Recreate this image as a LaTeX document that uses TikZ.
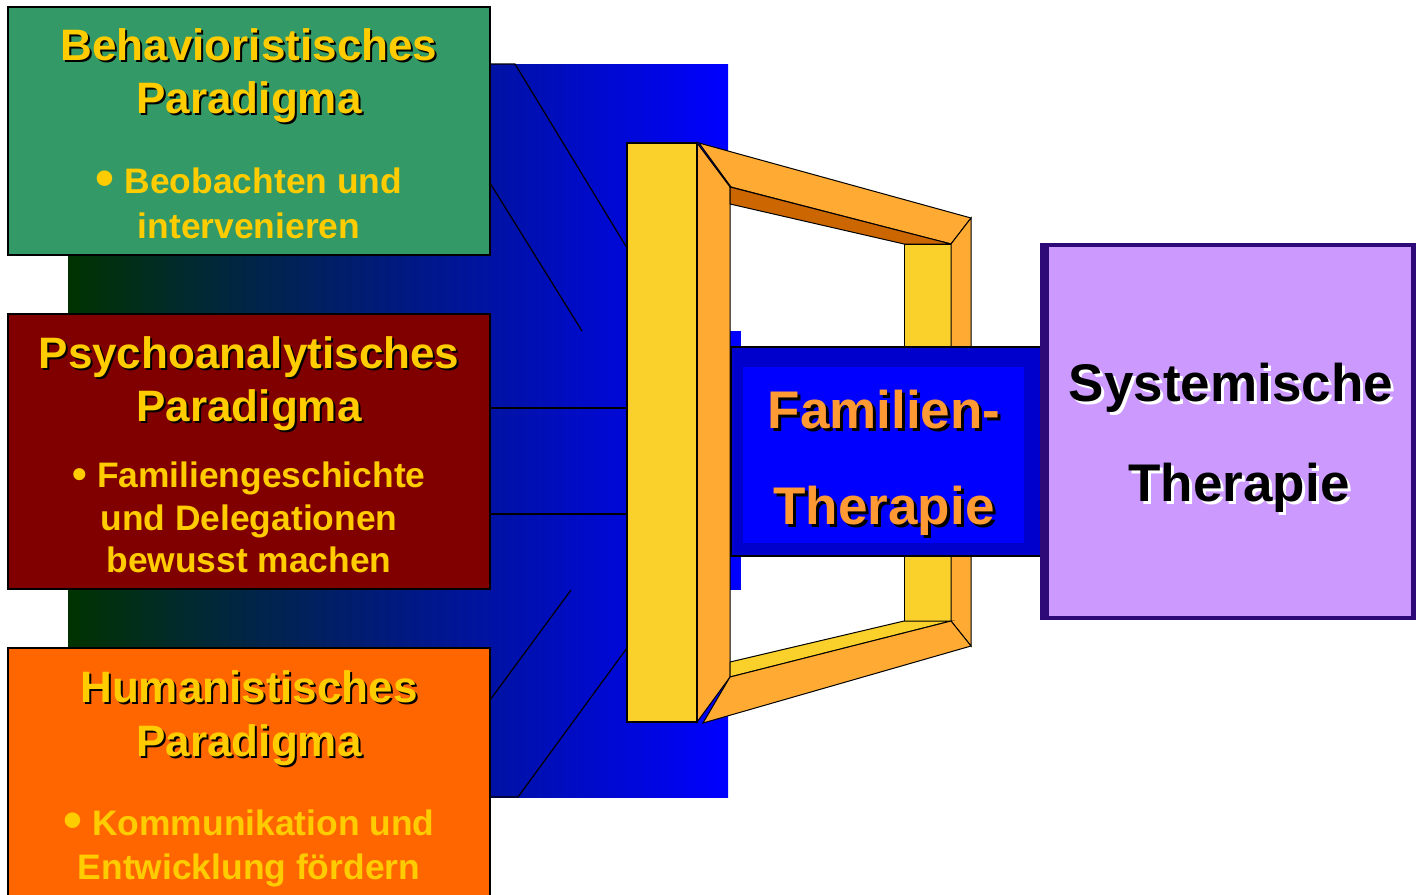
\documentclass[tikz,border=0pt]{standalone}
\usepackage{fontspec}
\setmainfont{Liberation Sans}

\definecolor{boxgreen}{HTML}{339966}
\definecolor{boxred}{HTML}{800000}
\definecolor{boxorange}{HTML}{FF6600}
\definecolor{titleyellow}{HTML}{FFCC00}
\definecolor{bgdark}{HTML}{003300}
\definecolor{bgblue}{HTML}{0000FF}
\definecolor{frameyellow}{HTML}{FAD02A}
\definecolor{frameorange}{HTML}{FFAA33}
\definecolor{framedark}{HTML}{CC6600}
\definecolor{famouter}{HTML}{0000CC}
\definecolor{faminner}{HTML}{0000FF}
\definecolor{famtext}{HTML}{FF9933}
\definecolor{sysfill}{HTML}{CC99FF}
\definecolor{sysborder}{HTML}{2E0A78}

% text with a cast shadow: name, position, style, shift, shadow colour, text colour, text
\newcommand\castlabel[7]{%
  \node[#3, text=#5, xshift=#4, yshift=-#4] (#1-shadow) at (#2) {#7};
  \node[#3, text=#6] (#1) at (#2) {#7};}

% bullet marks of two sizes
\newcommand\bigdot{\raisebox{-1.6pt}{\fontsize{27}{27}\selectfont •}}
\newcommand\middot{\raisebox{-0.6pt}{\fontsize{21}{21}\selectfont •}}

\begin{document}
\begin{tikzpicture}[x=0.5pt, y=-0.5pt,
  title/.style={anchor=base, inner sep=0pt, font=\fontsize{22}{26}\selectfont\bfseries},
  bullettext/.style={anchor=base, inner sep=0pt, font=\fontsize{17.7}{21}\selectfont\bfseries, text=titleyellow},
  bigtext/.style={anchor=base, inner sep=0pt, font=\fontsize{26.5}{30}\selectfont\bfseries},
  paradigm/.style={draw=black, line width=0.9pt},
  perspective/.style={draw=black, line width=0.6pt},
  facet/.style={draw=black, line width=0.5pt}]

\useasboundingbox (0,0) rectangle (1416,894);

% shaded backdrop behind the three paradigms
\shade[left color=bgdark, right color=bgblue] (68,64) rectangle (728,797);
\fill[bgblue] (726,331) rectangle (741,590);

% perspective lines leading into the frame
\draw[perspective] (490,64) -- (515,64) -- (627,248);
\draw[perspective] (490,183) -- (582,331);
\draw[perspective] (490,408) -- (627,408);
\draw[perspective] (490,514) -- (627,514);
\draw[perspective] (490,700) -- (571,590);
\draw[perspective] (490,797) -- (518,797) -- (627,648);

% the 3D frame
\draw[facet, fill=frameorange] (697,143) -- (730,187) -- (730,677) -- (697,722) -- cycle;
\draw[facet, fill=frameorange] (699,143) -- (971,218) -- (951,244) -- (731,187) -- cycle;
\draw[facet, fill=framedark] (730,187) -- (951,244) -- (904,244) -- (730,204) -- cycle;
\draw[facet, fill=frameyellow] (904,244) rectangle (951,621);
\draw[facet, fill=frameorange] (951,244) -- (971,218) -- (971,646) -- (951,621) -- cycle;
\draw[facet, fill=frameyellow] (730,662) -- (904,621) -- (951,621) -- (730,677) -- cycle;
\draw[facet, fill=frameorange] (730,677) -- (951,621) -- (971,646) -- (703,723) -- cycle;
\draw[line width=1pt, fill=frameyellow] (627,143) rectangle (697,722);

% family therapy bar
\draw[line width=0.8pt, fill=famouter] (731,347) rectangle (1042,556);
\fill[faminner] (743,367) rectangle (1024,543);
\castlabel{fam1}{884,428}{bigtext}{1.5pt}{black}{famtext}{Familien-}
\castlabel{fam2}{884,524}{bigtext}{1.5pt}{black}{famtext}{Therapie}

% systemic therapy box
\fill[sysborder] (1040,243) rectangle (1416,620);
\fill[sysfill] (1049,247) rectangle (1411,616);
\castlabel{sys1}{1231,401}{bigtext}{1.5pt}{white}{black}{Systemische}
\castlabel{sys2}{1239,501}{bigtext}{1.5pt}{white}{black}{Therapie}

% behaviouristic paradigm
\draw[paradigm, fill=boxgreen] (8,7) rectangle (490,255);
\castlabel{beh1}{249,60}{title}{1pt}{black}{titleyellow}{Behavioristisches}
\castlabel{beh2}{249,113}{title}{1pt}{black}{titleyellow}{Paradigma}
\node[bullettext] (beh3) at (249,193.5) {\bigdot\ Beobachten und};
\node[bullettext] (beh4) at (249,238.5) {intervenieren};

% psychoanalytic paradigm
\draw[paradigm, fill=boxred] (8,314) rectangle (490,589);
\castlabel{psy1}{249,368}{title}{1pt}{black}{titleyellow}{Psychoanalytisches}
\castlabel{psy2}{249,421}{title}{1pt}{black}{titleyellow}{Paradigma}
\node[bullettext] (psy3) at (249,487.5) {\middot\ Familiengeschichte};
\node[bullettext] (psy4) at (249,530) {und Delegationen};
\node[bullettext] (psy5) at (249,572.5) {bewusst machen};

% humanistic paradigm
\draw[paradigm, fill=boxorange] (8,648) rectangle (490,900);
\castlabel{hum1}{249,702}{title}{1pt}{black}{titleyellow}{Humanistisches}
\castlabel{hum2}{249,756}{title}{1pt}{black}{titleyellow}{Paradigma}
\node[bullettext] (hum3) at (249,835.5) {\bigdot\ Kommunikation und};
\node[bullettext] (hum4) at (249,879.5) {Entwicklung fördern};

\end{tikzpicture}
\end{document}
